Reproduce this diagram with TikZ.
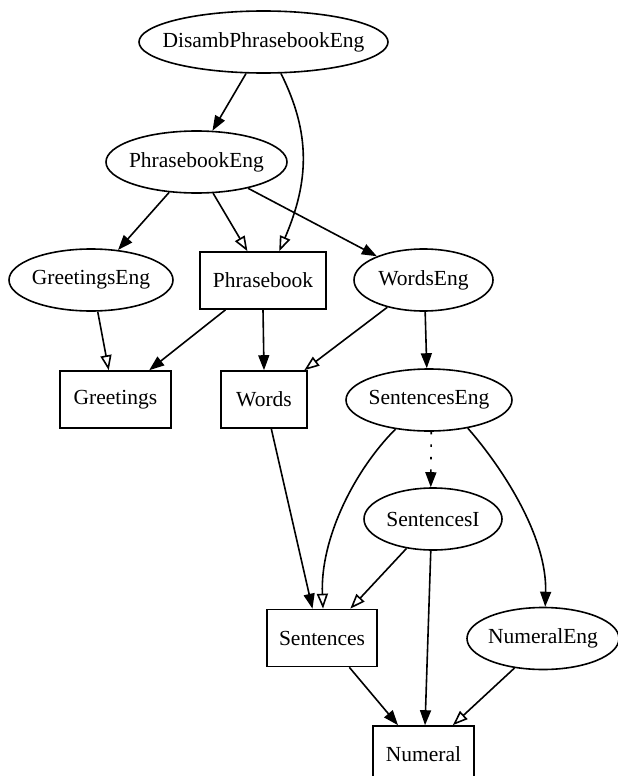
\documentclass[tikz,border=0pt]{standalone}
\usepackage{fontspec}
\setmainfont{Liberation Serif}
\usetikzlibrary{arrows.meta,shapes.geometric}
\begin{document}
\begin{tikzpicture}[x=1pt,y=-1pt]
  \tikzstyle{concrete}=[draw,ellipse,line width=1.6pt,inner xsep=-40pt,inner ysep=0pt,minimum height=62pt,font=\fontsize{21.5}{25}\selectfont]
  \tikzstyle{abstract}=[draw,rectangle,line width=1.6pt,inner sep=0pt,minimum height=57pt,font=\fontsize{21.5}{25}\selectfont]
  \tikzstyle{imports}=[line width=1.6pt,-{Triangle[length=15pt,width=11pt]}]
  \tikzstyle{implements}=[line width=1.6pt,-{Triangle[open,length=15pt,width=11pt]}]
  \tikzstyle{instantiates}=[imports,dash pattern=on 2.5pt off 10pt]
  \useasboundingbox (0,0) rectangle (618,776);
  % modules
  \node[concrete,minimum width=249pt] (disamb) at (263.5,42) {DisambPhrasebookEng};
  \node[concrete,minimum width=181pt] (phrasebookeng) at (196.5,162) {PhrasebookEng};
  \node[concrete,minimum width=164pt] (greetingseng) at (91,280) {GreetingsEng};
  \node[abstract,minimum width=126pt] (phrasebook) at (263,280.5) {Phrasebook};
  \node[concrete,minimum width=139pt] (wordseng) at (423.5,280) {WordsEng};
  \node[abstract,minimum width=111pt] (greetings) at (115.5,399.5) {Greetings};
  \node[abstract,minimum width=86pt] (words) at (264,399.5) {Words};
  \node[concrete,minimum width=166pt] (sentenceseng) at (429,400) {SentencesEng};
  \node[concrete,minimum width=138pt] (sentencesi) at (433,519) {SentencesI};
  \node[abstract,minimum width=110pt] (sentences) at (322,638) {Sentences};
  \node[concrete,minimum width=152pt] (numeraleng) at (543,638.5) {NumeralEng};
  \node[abstract,minimum width=101pt] (numeral) at (423.5,754.5) {Numeral};
  % dependencies
  \draw[imports] (disamb.-119) -- (phrasebookeng.63);
  \draw[implements] (disamb.-61) .. controls +(30,60) and +(30,-70) .. (phrasebook.61);
  \draw[imports] (phrasebookeng.-132) -- (greetingseng.48);
  \draw[implements] (phrasebookeng.-62) -- (phrasebook.118);
  \draw[imports] (phrasebookeng.-27) -- (wordseng.153);
  \draw[implements] (greetingseng.-78) -- (greetings.103);
  \draw[imports] (phrasebook.-142) -- (greetings.41);
  \draw[imports] (phrasebook.south) -- (words.north);
  \draw[implements] (wordseng.-143) -- (words.36);
  \draw[imports] (wordseng.-87) -- (sentenceseng.94);
  \draw[instantiates] (sentenceseng.-86) -- (sentencesi.94);
  \draw[implements] (sentenceseng.-139) .. controls +(-41,41) and +(-3,-70) .. (sentences.88);
  \draw[imports] (sentenceseng.-36) .. controls +(35,40) and +(2,-70) .. (numeraleng.86);
  \draw[imports] (words.-76) -- (sentences.108);
  \draw[implements] (sentencesi.-132) -- (sentences.46);
  \draw[imports] (sentencesi.-94) -- (numeral.87);
  \draw[imports] (sentences.-47) -- (numeral.131);
  \draw[implements] (numeraleng.-134) -- (numeral.45);
\end{tikzpicture}
\end{document}
